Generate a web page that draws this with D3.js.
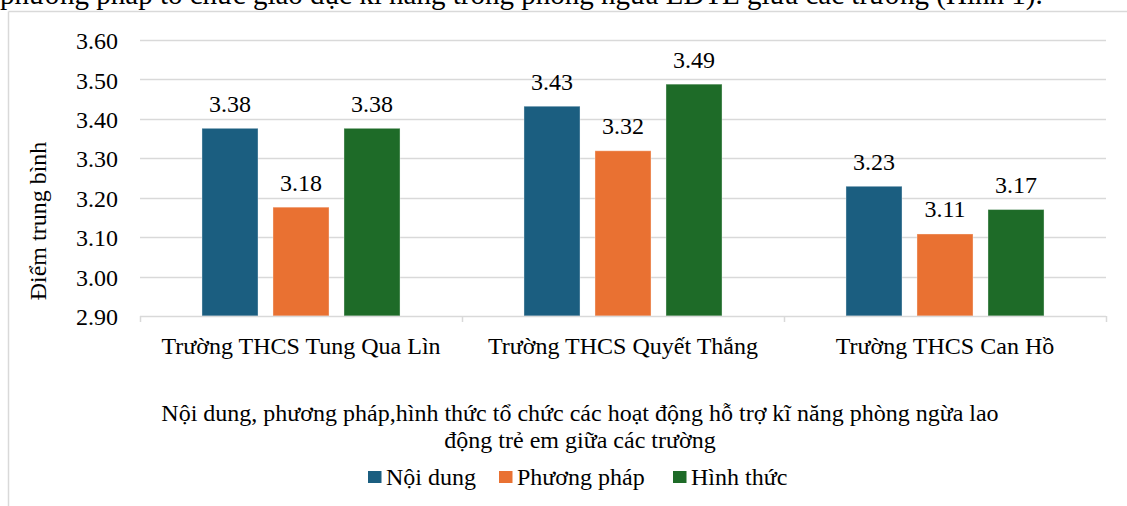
<!DOCTYPE html>
<html>
<head>
<meta charset="utf-8">
<script src="https://cdn.jsdelivr.net/npm/d3@7"></script>
<style>
  html, body { margin: 0; padding: 0; background: #fff; overflow: hidden; }
</style>
</head>
<body>
<svg id="chart" width="1127" height="506" font-family="Liberation Serif"></svg>
<script>
const categories = ["Trường THCS Tung Qua Lìn", "Trường THCS Quyết Thắng", "Trường THCS Can Hồ"];
const seriesNames = ["Nội dung", "Phương pháp", "Hình thức"];
const noiDung = [3.376, 3.432, 3.229];
const phuongPhap = [3.176, 3.319, 3.108];
const hinhThuc = [3.376, 3.488, 3.170];
const yTicks = [2.90, 3.00, 3.10, 3.20, 3.30, 3.40, 3.50, 3.60];
const colors = ["#1B5E80", "#E97132", "#1E6B28"];
const yTitle = "Điểm trung bình";
const titleLines = ["Nội dung, phương pháp,hình thức tổ chức các hoạt động hỗ trợ kĩ năng phòng ngừa lao", "động trẻ em giữa các trường"];
const topText = "phương pháp tổ chức giáo dục kĩ năng trong phòng ngừa LĐTE giữa các trường (Hình 1).";

const seriesValues = [noiDung, phuongPhap, hinhThuc];
const svg = d3.select("#chart");
const grid = "#d9d9d9";
const FS = 24;
const FF = "Liberation Serif";

// cropped paragraph text at the top
svg.append("text").attr("x", 0).attr("y", 4).attr("font-size", 29).attr("font-family", FF).text(topText);

// chart frame (partially cropped)
svg.append("line").attr("x1", 8.5).attr("x2", 1127).attr("y1", 11.5).attr("y2", 11.5).attr("stroke", grid).attr("stroke-width", 1.5);
svg.append("line").attr("x1", 8.5).attr("x2", 8.5).attr("y1", 11.5).attr("y2", 506).attr("stroke", grid).attr("stroke-width", 1.5);

const plot = { left: 140, right: 1106, top: 40, bottom: 316 };
const x0 = d3.scaleBand().domain(categories).range([plot.left, plot.right]).paddingInner(0).paddingOuter(0);
const x1 = d3.scaleBand().domain(seriesNames).range([0, x0.bandwidth()]).paddingInner(0.211).paddingOuter(0.873);
const y = d3.scaleLinear().domain([2.9, 3.6]).range([plot.bottom, plot.top]);

// gridlines
svg.append("g").selectAll("line").data(yTicks.filter(t => t > 2.9)).join("line")
  .attr("x1", plot.left).attr("x2", plot.right)
  .attr("y1", d => Math.round(y(d)) + 0.5).attr("y2", d => Math.round(y(d)) + 0.5)
  .attr("stroke", grid).attr("stroke-width", 1.5);

// y-axis labels
const yAxis = d3.axisLeft(y).tickValues(yTicks).tickFormat(d3.format(".2f")).tickSize(0).tickPadding(22);
const gy = svg.append("g").attr("transform", `translate(${plot.left},0)`).call(yAxis);
gy.attr("font-family", FF).attr("font-size", FS);
gy.select(".domain").remove();
gy.selectAll("text").attr("fill", "#000").attr("dy", "0.36em");

// bars
const groups = svg.append("g").selectAll("g").data(categories).join("g")
  .attr("transform", d => `translate(${x0(d)},0)`);
groups.selectAll("rect").data((c, i) => seriesNames.map((s, j) => ({ s, j, v: seriesValues[j][i] }))).join("rect")
  .attr("x", d => x1(d.s)).attr("width", x1.bandwidth())
  .attr("y", d => y(d.v)).attr("height", d => y(2.9) - y(d.v))
  .attr("fill", d => colors[d.j])
  .attr("stroke", "#ffffff").attr("stroke-opacity", 0.35).attr("stroke-width", 1);
groups.selectAll("text").data((c, i) => seriesNames.map((s, j) => ({ s, j, v: seriesValues[j][i] }))).join("text")
  .attr("x", d => x1(d.s) + x1.bandwidth() / 2).attr("y", d => y(d.v) - 16.5)
  .attr("text-anchor", "middle").attr("font-size", FS).attr("font-family", FF)
  .text(d => d3.format(".2f")(d.v));

// x-axis
const xAxis = d3.axisBottom(x0).tickSize(0).tickPadding(21);
const gx = svg.append("g").attr("transform", `translate(0,${plot.bottom})`).call(xAxis);
gx.attr("font-family", FF).attr("font-size", FS);
gx.select(".domain").attr("stroke", grid).attr("stroke-width", 1.5).attr("d", `M${plot.left},0.5H${plot.right}`);
gx.selectAll("text").attr("fill", "#000");
const boundaries = categories.map(c => x0(c)).concat([plot.right]);
svg.append("g").selectAll("line").data(boundaries).join("line")
  .attr("x1", d => d + 0.5).attr("x2", d => d + 0.5)
  .attr("y1", plot.bottom).attr("y2", plot.bottom + 6)
  .attr("stroke", grid).attr("stroke-width", 1.5);

// y title
svg.append("text").attr("transform", "translate(46,221) rotate(-90)")
  .attr("text-anchor", "middle").attr("font-size", FS).attr("font-family", FF).text(yTitle);

// bottom title
svg.append("g").selectAll("text").data(titleLines).join("text")
  .attr("x", 580).attr("y", (d, i) => 421 + i * 27)
  .attr("text-anchor", "middle").attr("font-size", FS).attr("font-family", FF).text(d => d);

// legend
const legendX = [368, 499, 673];
const lg = svg.append("g").selectAll("g").data(seriesNames).join("g")
  .attr("transform", (d, i) => `translate(${legendX[i]},471)`);
lg.append("rect").attr("width", 13.5).attr("height", 12).attr("fill", (d, i) => colors[i]);
lg.append("text").attr("x", 18).attr("y", 13.5).attr("font-size", FS).attr("font-family", FF).text(d => d);
</script>
</body>
</html>
